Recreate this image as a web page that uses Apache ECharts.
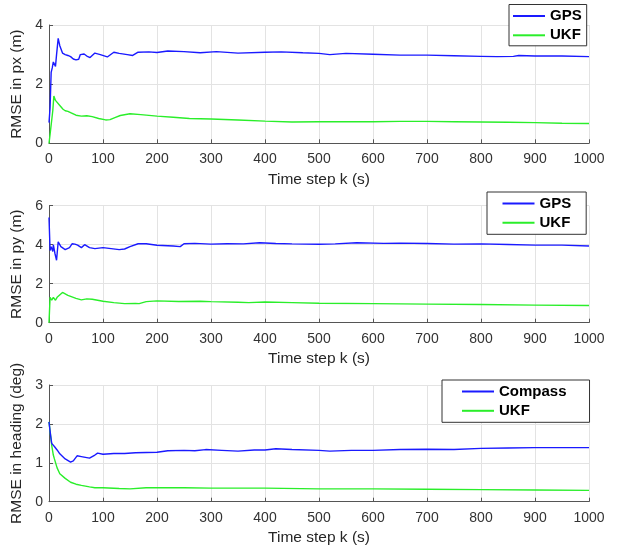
<!DOCTYPE html>
<html>
<head>
<meta charset="utf-8">
<script src="https://cdn.jsdelivr.net/npm/echarts@6/dist/echarts.min.js"></script>
<style>
  html, body { margin: 0; padding: 0; background: #fff; }
  #chart { width: 618px; height: 548px; }
</style>
</head>
<body>
<div id="chart"></div>
<script>
// RMSE histories, [time step k, error]
const pxGps = [[0,0.7],[2,1.2],[4,2.4],[6,2.55],[8,2.75],[10,2.7],[12,2.6],[14,3.0],[17,3.55],[20,3.3],[25,3.05],[30,3.0],[35,2.97],[40,2.93],[45,2.85],[50,2.82],[55,2.84],[58,3.0],[65,3.02],[70,2.95],[76,2.9],[85,3.05],[95,3.0],[108,2.92],[120,3.08],[130,3.04],[145,3.0],[155,2.97],[165,3.08],[185,3.09],[200,3.07],[220,3.12],[250,3.1],[280,3.06],[310,3.1],[350,3.05],[400,3.08],[430,3.09],[470,3.06],[500,3.04],[520,3.0],[550,3.04],[600,3.01],[650,2.98],[700,2.98],[750,2.96],[800,2.94],[830,2.93],[860,2.94],[870,2.97],[900,2.95],[950,2.95],[1000,2.93]];
const pxUkf = [[0,0.0],[2,0.3],[5,0.3],[7,1.1],[9,1.6],[12,1.45],[20,1.28],[26,1.15],[30,1.1],[35,1.08],[42,1.02],[50,0.95],[60,0.92],[70,0.93],[80,0.9],[92,0.84],[105,0.79],[113,0.8],[122,0.87],[132,0.94],[150,1.0],[170,0.97],[200,0.92],[230,0.88],[260,0.84],[300,0.82],[350,0.79],[400,0.75],[450,0.72],[500,0.73],[550,0.73],[600,0.73],[650,0.74],[700,0.74],[750,0.73],[800,0.72],[850,0.71],[900,0.7],[950,0.68],[1000,0.67]];

const pyGps = [[0,5.4],[2,3.7],[4,3.9],[5,4.0],[7,3.65],[8,4.0],[11,3.55],[14,3.2],[17,4.15],[22,3.9],[30,3.75],[38,3.85],[43,4.05],[48,4.03],[53,3.98],[60,3.85],[66,4.0],[75,3.85],[85,3.8],[100,3.85],[115,3.8],[130,3.75],[140,3.78],[150,3.9],[165,4.05],[180,4.05],[200,3.97],[230,3.93],[243,3.9],[250,4.05],[270,4.07],[300,4.03],[330,4.05],[360,4.04],[390,4.1],[420,4.06],[450,4.04],[500,4.02],[530,4.04],[570,4.1],[620,4.07],[650,4.08],[700,4.06],[750,4.03],[800,4.04],[850,4.01],[900,3.98],[950,3.98],[1000,3.93]];
const pyUkf = [[0,0.0],[2,1.3],[5,1.15],[8,1.3],[12,1.15],[15,1.3],[18,1.2],[25,1.55],[35,1.4],[50,1.25],[60,1.17],[70,1.22],[80,1.2],[100,1.1],[120,1.03],[140,0.98],[160,0.99],[167,0.98],[180,1.08],[200,1.12],[240,1.09],[280,1.1],[300,1.08],[350,1.05],[370,1.03],[400,1.06],[450,1.03],[500,1.0],[600,0.98],[700,0.95],[800,0.93],[900,0.9],[1000,0.88]];

const hdCompass = [[0,2.05],[3,1.7],[5,1.5],[8,1.48],[10,1.42],[15,1.33],[20,1.23],[30,1.1],[40,1.02],[45,1.05],[52,1.18],[60,1.16],[75,1.12],[85,1.2],[90,1.25],[100,1.22],[120,1.24],[140,1.24],[160,1.26],[200,1.27],[220,1.31],[250,1.32],[270,1.31],[290,1.34],[320,1.32],[350,1.3],[380,1.33],[400,1.33],[420,1.36],[450,1.34],[500,1.32],[520,1.3],[560,1.32],[600,1.32],[650,1.34],[700,1.35],[750,1.34],[800,1.37],[850,1.38],[900,1.39],[950,1.39],[1000,1.39]];
const hdUkf = [[0,2.05],[3,1.7],[5,1.45],[8,1.2],[10,1.1],[15,0.87],[20,0.72],[30,0.6],[40,0.5],[50,0.45],[60,0.42],[75,0.38],[85,0.36],[100,0.36],[130,0.34],[150,0.33],[180,0.36],[250,0.36],[300,0.35],[400,0.35],[500,0.33],[600,0.33],[700,0.32],[800,0.31],[900,0.3],[1000,0.29]];

const xTicks = { min: 0, max: 1000, interval: 100 };
const panels = [
  { yName: 'RMSE in px (m)', yMax: 4, yStep: 2, names: ['GPS', 'UKF'], data: [pxGps, pxUkf] },
  { yName: 'RMSE in py (m)', yMax: 6, yStep: 2, names: ['GPS', 'UKF'], data: [pyGps, pyUkf] },
  { yName: 'RMSE in heading (deg)', yMax: 3, yStep: 1, names: ['Compass', 'UKF'], data: [hdCompass, hdUkf] }
];

const BLUE = '#1a1aff';
const GREEN = '#2aee2a';
const FONT = 'Liberation Sans, Arial, sans-serif';
const AXIS = '#555555';
const gridTops = [25, 205.7, 385];
const gridHeights = [118.3, 117, 116.7];
const legendBoxes = [
  { left: 509, top: 4.5, padding: [4, 5, 3, 4] },
  { left: 487, top: 192, padding: [4, 15, 4, 15.5] },
  { left: 442, top: 380, padding: [4, 23, 4, 20] }
];

const option = {
  animation: false,
  backgroundColor: '#ffffff',
  grid: panels.map((p, i) => ({ left: 49, right: 29, top: gridTops[i], height: gridHeights[i] })),
  xAxis: panels.map((p, i) => ({
    type: 'value', gridIndex: i, min: xTicks.min, max: xTicks.max, interval: xTicks.interval,
    name: 'Time step k (s)', nameLocation: 'middle', nameGap: 28,
    nameTextStyle: { fontFamily: FONT, fontSize: 15.5, color: '#262626' },
    axisLine: { show: true, lineStyle: { color: AXIS, width: 1 } },
    axisTick: { show: true, inside: true, length: 4, lineStyle: { color: AXIS } },
    axisLabel: { fontFamily: FONT, fontSize: 14, color: '#333333', margin: 9, formatter: v => String(v) },
    splitLine: { show: true, lineStyle: { color: '#e3e3e3', width: 1 } }
  })),
  yAxis: panels.map((p, i) => ({
    type: 'value', gridIndex: i, min: 0, max: p.yMax, interval: p.yStep,
    name: p.yName, nameLocation: 'middle', nameGap: 20, nameRotate: 90,
    nameTextStyle: { fontFamily: FONT, fontSize: 15.5, color: '#262626' },
    axisLine: { show: true, lineStyle: { color: AXIS, width: 1 } },
    axisTick: { show: true, inside: true, length: 4, lineStyle: { color: AXIS } },
    axisLabel: { fontFamily: FONT, fontSize: 14, color: '#333333', margin: 6 },
    splitLine: { show: true, lineStyle: { color: '#e3e3e3', width: 1 } }
  })),
  legend: panels.map((p, i) => ({
    orient: 'vertical',
    left: legendBoxes[i].left, top: legendBoxes[i].top,
    padding: legendBoxes[i].padding,
    borderColor: '#333333', borderWidth: 1, backgroundColor: '#ffffff',
    itemWidth: 32, itemHeight: 2, itemGap: 4.3,
    icon: 'rect',
    textStyle: { fontFamily: FONT, fontSize: 15, fontWeight: 'bold', color: '#000000' },
    data: p.names.map(n => ({ name: n + '\u200b'.repeat(i) })),
    selectedMode: false
  })),
  series: []
};

panels.forEach((p, i) => {
  p.data.forEach((d, j) => {
    option.series.push({
      type: 'line',
      name: p.names[j] + '\u200b'.repeat(i),
      xAxisIndex: i, yAxisIndex: i,
      data: d,
      showSymbol: false, symbol: 'none',
      lineStyle: { color: j === 0 ? BLUE : GREEN, width: 1.4 },
      itemStyle: { color: j === 0 ? BLUE : GREEN },
      z: j === 0 ? 3 : 2
    });
  });
});

const chart = echarts.init(document.getElementById('chart'), null, { renderer: 'canvas' });
chart.setOption(option);
</script>
</body>
</html>
